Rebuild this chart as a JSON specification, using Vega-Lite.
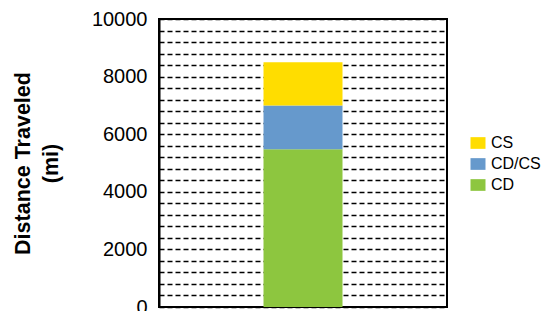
{
  "$schema": "https://vega.github.io/schema/vega-lite/v6.json",
  "autosize": {"type": "none"},
  "padding": {"left": 159, "top": 19, "right": 95, "bottom": 4},
  "width": 288,
  "height": 288,
  "background": "white",
  "config": {
    "font": "Liberation Sans",
    "view": {"stroke": "black", "strokeWidth": 2}
  },
  "data": {
    "values": [
      {"group": "A", "category": "CD", "distance": 5480},
      {"group": "A", "category": "CD/CS", "distance": 1520},
      {"group": "A", "category": "CS", "distance": 1500}
    ]
  },
  "mark": {"type": "bar"},
  "encoding": {
    "x": {
      "field": "group",
      "type": "nominal",
      "axis": null,
      "scale": {"paddingInner": 0.244, "paddingOuter": 1}
    },
    "y": {
      "field": "distance",
      "type": "quantitative",
      "stack": "zero",
      "scale": {"domain": [0, 10000], "nice": false},
      "axis": {
        "title": ["Distance Traveled", "(mi)"],
        "titleFont": "Liberation Sans",
        "titleFontSize": 21.5,
        "titleFontWeight": "bold",
        "titleColor": "black",
        "titleLineHeight": 28,
        "titlePadding": 29,
        "values": [0,400,800,1200,1600,2000,2400,2800,3200,3600,4000,4400,4800,5200,5600,6000,6400,6800,7200,7600,8000,8400,8800,9200,9600,10000],
        "labelExpr": "datum.value % 2000 === 0 ? format(datum.value, 'd') : ''",
        "labelFontSize": 20,
        "labelColor": "black",
        "labelPadding": 12,
        "ticks": false,
        "domain": true,
        "domainColor": "black",
        "domainWidth": 2,
        "grid": true,
        "gridColor": "black",
        "gridWidth": 1.6,
        "gridDash": [5, 3],
        "gridOpacity": 1
      }
    },
    "color": {
      "field": "category",
      "type": "nominal",
      "scale": {
        "domain": ["CS", "CD/CS", "CD"],
        "range": ["#FFDD00", "#6699CC", "#8DC63F"]
      },
      "legend": {
        "title": null,
        "orient": "none",
        "legendX": 311,
        "legendY": 116,
        "labelFontSize": 16,
        "labelColor": "black",
        "labelOffset": 5,
        "rowPadding": 5,
        "symbolType": "M-1,-0.78H1V0.78H-1Z",
        "symbolSize": 225,
        "symbolStrokeWidth": 0,
        "symbolOpacity": 1
      }
    },
    "order": {"field": "category", "sort": "ascending"}
  }
}
